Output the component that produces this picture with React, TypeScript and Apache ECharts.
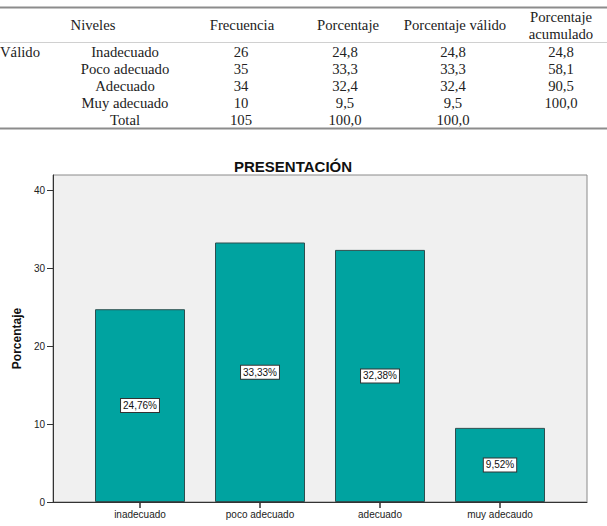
import React, { useEffect, useRef } from "react";
import * as echarts from "echarts";

// Frequency table
const tableHeaders = ["Niveles", "Frecuencia", "Porcentaje", "Porcentaje válido"];
const cumulativeHeader = ["Porcentaje", "acumulado"];
const levelNames = ["Inadecuado", "Poco adecuado", "Adecuado", "Muy adecuado", "Total"];
const frequencies = [26, 35, 34, 10, 105];
const percents = [24.8, 33.3, 32.4, 9.5, 100.0];
const validPercents = [24.8, 33.3, 32.4, 9.5, 100.0];
const cumulativePercents: (number | null)[] = [24.8, 58.1, 90.5, 100.0, null];

// Bar chart
const chartTitle = "PRESENTACIÓN";
const categories = ["inadecuado", "poco adecuado", "adecuado", "muy adecaudo"];
const barPercents = [24.76, 33.33, 32.38, 9.52];
const yTicks = [0, 10, 20, 30, 40];

const SERIF = "'Liberation Serif', 'Times New Roman', serif";
const SANS = "'Liberation Sans', Arial, sans-serif";

const fmt1 = (v: number) => v.toFixed(1).replace(".", ",");
const fmt2 = (v: number) => v.toFixed(2).replace(".", ",") + "%";

function buildTable(): any[] {
  const els: any[] = [];
  const txt = (text: string, x: number, y: number, align = "center") => ({
    type: "text",
    x,
    y,
    silent: true,
    style: {
      text,
      fill: "#222",
      font: `14.7px ${SERIF}`,
      textAlign: align,
      textVerticalAlign: "middle",
    },
  });
  const rule = (y: number, stroke: string, w: number) => ({
    type: "line",
    silent: true,
    shape: { x1: 0, y1: y, x2: 607, y2: y },
    style: { stroke, lineWidth: w },
  });

  els.push(rule(7.5, "#8c8c8c", 2));
  els.push(rule(42.5, "#d0d0d0", 1));
  els.push(rule(128.5, "#8c8c8c", 2));

  const headerX = [93, 242, 348, 455];
  tableHeaders.forEach((h, i) => els.push(txt(h, headerX[i], 25)));
  els.push(txt(cumulativeHeader[0], 561, 17));
  els.push(txt(cumulativeHeader[1], 561, 34));

  const rowY = [52, 69, 86, 103, 120];
  els.push(txt("Válido", 0, rowY[0], "left"));
  levelNames.forEach((name, r) => {
    const y = rowY[r];
    els.push(txt(name, 125, y));
    els.push(txt(String(frequencies[r]), 241, y));
    els.push(txt(fmt1(percents[r]), 345, y));
    els.push(txt(fmt1(validPercents[r]), 453, y));
    const c = cumulativePercents[r];
    if (c !== null) els.push(txt(fmt1(c), 561, y));
  });
  return els;
}

export default function App() {
  const ref = useRef<HTMLDivElement>(null);

  useEffect(() => {
    document.body.style.margin = "0";
    if (!ref.current) return;
    const chart = echarts.init(ref.current, null, { renderer: "svg" });

    const option: any = {
      animation: false,
      backgroundColor: "#ffffff",
      title: {
        text: chartTitle,
        left: 234,
        top: 159,
        padding: 0,
        textStyle: {
          fontFamily: SANS,
          fontSize: 15,
          fontWeight: "bold",
          color: "#111",
        },
      },
      graphic: buildTable(),
      grid: [
        {
          left: 53,
          top: 175,
          width: 534,
          height: 327,
          show: true,
          backgroundColor: "#f0f0f0",
          borderColor: "#8a8a8a",
          borderWidth: 1,
        },
        { left: 80, top: 175, width: 480, height: 327, show: false },
      ],
      xAxis: [
        {
          gridIndex: 0,
          type: "value",
          min: 0,
          max: 1,
          axisLine: { show: true, lineStyle: { color: "#333", width: 1 } },
          axisTick: { show: false },
          axisLabel: { show: false },
          splitLine: { show: false },
        },
        {
          gridIndex: 1,
          type: "category",
          data: categories,
          axisLine: { show: false },
          axisTick: {
            show: true,
            alignWithLabel: true,
            length: 6,
            lineStyle: { color: "#333", width: 1.5 },
          },
          axisLabel: {
            margin: 7,
            fontFamily: SANS,
            fontSize: 10,
            color: "#222",
          },
        },
      ],
      yAxis: [
        {
          gridIndex: 0,
          type: "value",
          min: 0,
          max: 42,
          interval: 10,
          name: "Porcentaje",
          nameLocation: "middle",
          nameGap: 30,
          nameRotate: 90,
          nameTextStyle: {
            fontFamily: SANS,
            fontSize: 12,
            fontWeight: "bold",
            color: "#111",
          },
          axisLine: { show: true, lineStyle: { color: "#333", width: 1 } },
          axisTick: {
            show: true,
            length: 6,
            customValues: yTicks,
            lineStyle: { color: "#333" },
          },
          axisLabel: {
            margin: 8,
            customValues: yTicks,
            fontFamily: SANS,
            fontSize: 10,
            color: "#222",
          },
          splitLine: { show: false },
        },
        { gridIndex: 1, type: "value", min: 0, max: 42, show: false },
      ],
      series: [
        {
          type: "bar",
          xAxisIndex: 1,
          yAxisIndex: 1,
          data: barPercents,
          barWidth: 90,
          itemStyle: {
            color: "#00a3a0",
            borderColor: "#2d4f4f",
            borderWidth: 1,
          },
          label: {
            show: true,
            position: "inside",
            formatter: (p: any) => fmt2(p.value),
            fontFamily: SANS,
            fontSize: 10,
            color: "#111",
            backgroundColor: "#ffffff",
            borderColor: "#333",
            borderWidth: 1,
            padding: [2, 2, 1, 2],
          },
        },
      ],
    };

    chart.setOption(option);
    return () => chart.dispose();
  }, []);

  return <div ref={ref} style={{ width: 607, height: 526 }} />;
}
